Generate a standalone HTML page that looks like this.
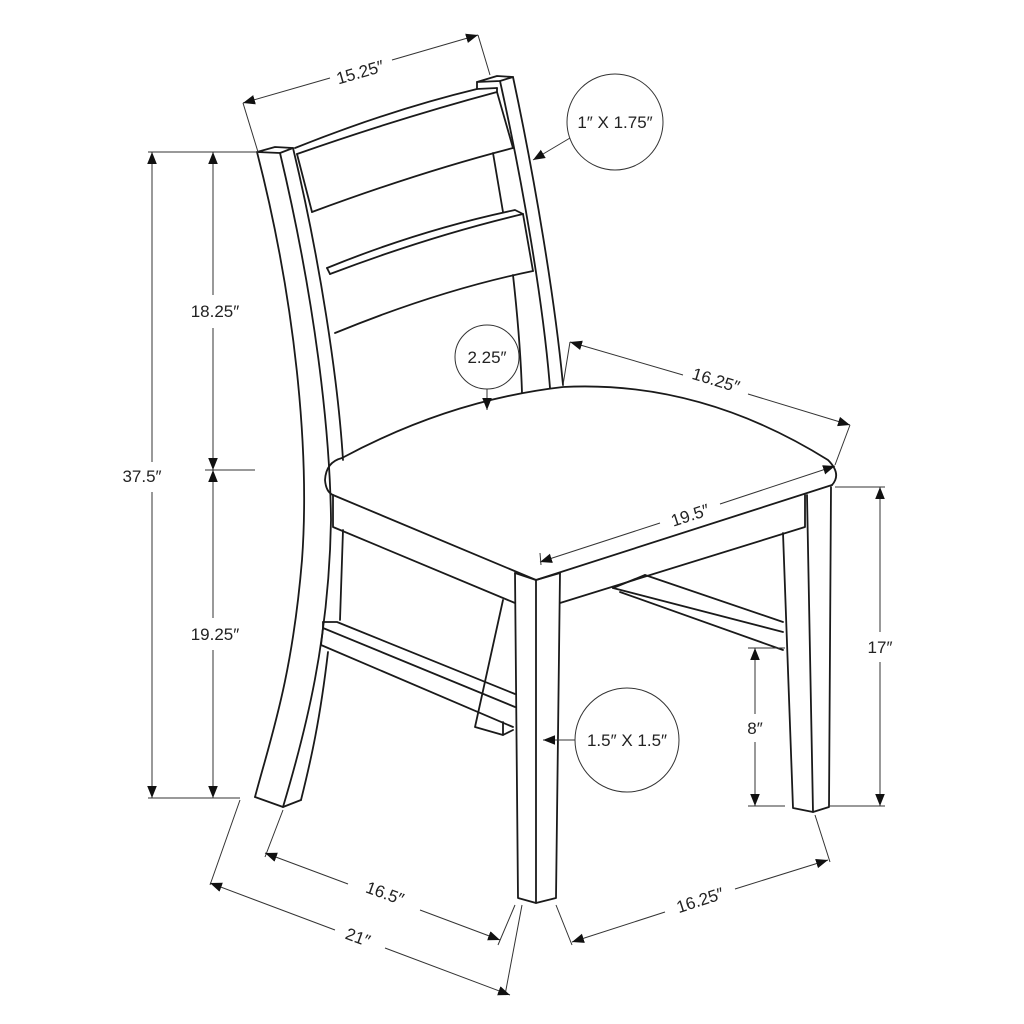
<!DOCTYPE html>
<html><head><style>html,body{margin:0;padding:0;background:#fff}svg{display:block}</style></head>
<body>
<svg width="1024" height="1024" viewBox="0 0 1024 1024" xmlns="http://www.w3.org/2000/svg">
<defs>
<marker id="a" viewBox="0 0 10 10" refX="10" refY="5" markerWidth="12" markerHeight="12" markerUnits="userSpaceOnUse" orient="auto-start-reverse"><path d="M0,1 L10,5 L0,9 z" fill="#111"/></marker>
</defs>
<g fill="none" stroke="#1a1a1a" stroke-width="1.8" stroke-linejoin="round" stroke-linecap="round">
<path d="M257,152 L275,147 L293,148 L280,153 Z"/>
<path d="M257,152 C295,300 310,450 302,560 C292,680 270,740 255,797"/>
<path d="M280,153 C315,300 330,430 331,520 C329,640 306,730 283,807"/>
<path d="M293,148 C320,260 338,380 343,460"/>
<path d="M343,530 L340,620"/>
<path d="M328,652 C320,720 311,760 301,800"/>
<path d="M255,797 L283,807 L301,800"/>
<path d="M477,82 L497,76 L513,77 L500,81 Z"/>
<path d="M477,82 L477,89"/>
<path d="M513,77 C535,180 555,300 563,385"/>
<path d="M500,81 C522,180 543,300 550,388"/>
<path d="M493,153 L503,212"/>
<path d="M513,275 C518,320 521,360 522,393"/>
<path d="M295,148 Q390,110 477,89 L497,88"/>
<path d="M297,154 Q400,118 497,92"/>
<path d="M497,88 L497,92 L513,148"/>
<path d="M312,212 Q420,172 513,148"/>
<path d="M297,154 L312,212"/>
<path d="M327,268 Q420,230 515,210 L523,214"/>
<path d="M330,274 Q430,236 523,214"/>
<path d="M523,214 L533,271"/>
<path d="M335,333 Q440,290 533,271"/>
<path d="M327,268 L330,274"/>
<path d="M342,458 Q450,400 563,387 Q700,380 828,460 Q842,474 832,485"/>
<path d="M342,458 Q326,462 325,480 Q326,492 333,495"/>
<path d="M333,495 L536,580 L832,485"/>
<path d="M333,495 L333,527 L515,603"/>
<path d="M560,603 L805,527 L805,495"/>
<path d="M515,573 L536,580 L560,573"/>
<path d="M515,573 L518,898 L536,903 L556,898 L560,573"/>
<path d="M536,580 L536,903"/>
<path d="M783,533 L793,808 L813,812 L829,807 L831,487"/>
<path d="M807,495 L813,812"/>
<path d="M503,600 L475,727 L503,735 L513,730"/>
<path d="M503,735 L503,722"/>
<path d="M323,622 L337,622 L515,694"/>
<path d="M323,622 L323,628 L515,707"/>
<path d="M323,628 L321,645 L513,727"/>
<path d="M645,575 L783,622"/>
<path d="M613,588 L783,632"/>
<path d="M613,588 L645,575"/>
<path d="M620,592 L783,650"/>
</g>
<g fill="none" stroke="#333" stroke-width="1">
<path d="M243,103 L258,152 M478,35 L490,75"/>
<path d="M243,103 L330,78 M392,60 L478,35" marker-start="url(#a)" marker-end="url(#a)"/>
<circle cx="615" cy="122" r="48"/>
<path d="M570,138 L533,160" marker-end="url(#a)"/>
<path d="M148,152 L258,152 M148,798 L240,798 M205,470 L255,470"/>
<path d="M152,152 L152,462" marker-start="url(#a)"/>
<path d="M152,492 L152,798" marker-end="url(#a)"/>
<path d="M213,152 L213,295" marker-start="url(#a)"/>
<path d="M213,328 L213,470" marker-end="url(#a)"/>
<path d="M213,470 L213,618" marker-start="url(#a)"/>
<path d="M213,650 L213,798" marker-end="url(#a)"/>
<circle cx="487" cy="357" r="32"/>
<path d="M487,389 L487,410" marker-end="url(#a)"/>
<path d="M570,342 L563,385 M850,425 L835,465"/>
<path d="M570,342 L683,375 M748,394 L850,425" marker-start="url(#a)" marker-end="url(#a)"/>
<path d="M540,562 L660,523 M720,504 L835,466" marker-start="url(#a)" marker-end="url(#a)"/>
<path d="M540,553 L541,565"/>
<path d="M835,487 L885,487 M830,806 L885,806"/>
<path d="M880,487 L880,632 M880,662 L880,806" marker-start="url(#a)" marker-end="url(#a)"/>
<path d="M748,648 L785,648 M748,806 L785,806"/>
<path d="M755,648 L755,714 M755,742 L755,806" marker-start="url(#a)" marker-end="url(#a)"/>
<circle cx="627" cy="740" r="52"/>
<path d="M575,740 L543,740" marker-end="url(#a)"/>
<path d="M283,810 L265,857 M515,905 L498,945"/>
<path d="M265,853 L348,884 M420,910 L500,940" marker-start="url(#a)" marker-end="url(#a)"/>
<path d="M240,800 L210,885 M522,905 L505,995"/>
<path d="M210,883 L335,930 M385,948 L510,995" marker-start="url(#a)" marker-end="url(#a)"/>
<path d="M556,905 L572,945 M815,815 L830,862"/>
<path d="M572,942 L665,912 M735,889 L828,860" marker-start="url(#a)" marker-end="url(#a)"/>
</g>
<g font-family="'Liberation Sans', sans-serif" font-size="17" fill="#222" text-anchor="middle">
<text x="360" y="78" transform="rotate(-16 360 72)">15.25″</text>
<text x="615" y="128">1″ X 1.75″</text>
<text x="142" y="482">37.5″</text>
<text x="215" y="317">18.25″</text>
<text x="215" y="640">19.25″</text>
<text x="487" y="363">2.25″</text>
<text x="716" y="386" transform="rotate(17 716 380)">16.25″</text>
<text x="690" y="521" transform="rotate(-18 690 515)">19.5″</text>
<text x="880" y="653">17″</text>
<text x="755" y="734">8″</text>
<text x="627" y="746">1.5″ X 1.5″</text>
<text x="385" y="899" transform="rotate(20 385 893)">16.5″</text>
<text x="358" y="943" transform="rotate(20 358 937)">21″</text>
<text x="700" y="906" transform="rotate(-18 700 900)">16.25″</text>
</g>
</svg>
</body></html>
